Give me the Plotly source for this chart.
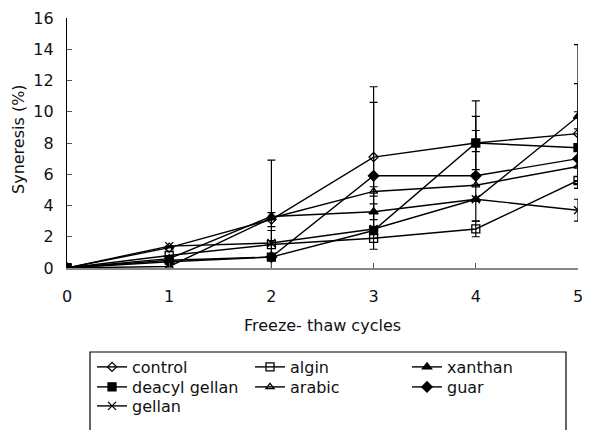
import plotly.graph_objects as go

cycles = [0, 1, 2, 3, 4, 5]
x_ticks = [0, 1, 2, 3, 4, 5]
y_ticks = [0, 2, 4, 6, 8, 10, 12, 14, 16]

control = [0, 1.3, 3.1, 7.1, 8.0, 8.6]
algin = [0, 0.8, 1.5, 1.9, 2.5, 5.6]
xanthan = [0, 0.6, 3.3, 3.6, 4.4, 9.7]
deacyl_gellan = [0, 0.5, 0.7, 2.4, 8.0, 7.7]
arabic = [0, 0.1, 3.2, 4.9, 5.3, 6.5]
guar = [0, 0.4, 0.7, 5.9, 5.9, 7.0]
gellan = [0, 1.4, 1.6, 2.5, 4.4, 3.7]

N = None
control_err = [N, N, 0.45, 4.5, 1.7, 3.2]
algin_err = [N, N, N, N, 0.5, N]
xanthan_err = [N, N, 3.6, 0.5, N, 4.6]
deacyl_err = [N, N, N, N, 2.7, 2.3]
deacyl_err_minus = [N, N, N, N, 0.55, N]
arabic_err = [N, N, N, 0.3, N, N]
guar_err = [N, N, N, 4.7, 2.9, 1.9]
gellan_err = [N, N, 0.8, N, N, 0.7]

# legend slot: (column, row)
series = [
    ("control", control, control_err, None, "diamond-open", 7, 0, 0),
    ("algin", algin, algin_err, None, "square-open", 8, 1, 0),
    ("xanthan", xanthan, xanthan_err, None, "triangle-up", 8, 2, 0),
    ("deacyl gellan", deacyl_gellan, deacyl_err, deacyl_err_minus, "square", 8, 0, 1),
    ("arabic", arabic, arabic_err, None, "triangle-up-open", 7, 1, 1),
    ("guar", guar, guar_err, None, "diamond", 8, 2, 1),
    ("gellan", gellan, gellan_err, None, "x-thin-open", 8, 0, 2),
]

font = dict(family="DejaVu Sans, sans-serif", size=16, color="#111")
col_x = [0.1429, 0.4116, 0.6786]
row_y = [0.1896, 0.1422, 0.0972]

fig = go.Figure()
legends = {}
for i, (name, vals, err, errm, sym, size, col, row) in enumerate(series):
    ey = dict(type="data", array=err, symmetric=errm is None, color="black",
              thickness=1.2, width=4)
    if errm is not None:
        ey["arrayminus"] = errm
    leg = "legend" if i == 0 else f"legend{i + 1}"
    fig.add_trace(go.Scatter(
        x=cycles, y=vals, name=name, mode="lines+markers",
        line=dict(color="black", width=1.4),
        marker=dict(symbol=sym, size=size, color="black",
                    line=dict(color="black", width=1.3)),
        error_y=ey, legend=leg, showlegend=True,
    ))
    legends[leg] = dict(font=font, bgcolor="rgba(0,0,0,0)", yanchor="top",
                        xanchor="left", orientation="v", itemwidth=30,
                        xref="container", yref="container",
                        x=col_x[col], y=row_y[row], visible=True)

fig.update_layout(
    width=588, height=422,
    showlegend=True,
    margin=dict(l=59, r=18, t=10, b=162, autoexpand=False),
    paper_bgcolor="white", plot_bgcolor="white",
    font=font,
    xaxis=dict(range=[0, 5], tickvals=x_ticks, showgrid=False, zeroline=False,
               showline=True, linecolor="#888", linewidth=1.5, ticks="inside",
               ticklen=5, tickcolor="#555", ticklabelstandoff=13,
               automargin=False,
               title=dict(text="Freeze- thaw cycles", font=font, standoff=15)),
    yaxis=dict(range=[0, 16], tickvals=y_ticks, showgrid=False, zeroline=False,
               showline=True, linecolor="black", linewidth=1.2, ticks="inside",
               ticklen=5, tickcolor="#555", ticklabelstandoff=9,
               automargin=False),
    annotations=[dict(text="Syneresis (%)", xref="paper", yref="paper",
                      x=-0.0959, y=0.516, xanchor="center", yanchor="middle",
                      textangle=-90, showarrow=False, font=font)],
    shapes=[dict(type="rect", xref="paper", yref="paper",
                 x0=0.045, x1=0.9765, y0=-0.336, y1=-0.72,
                 line=dict(color="black", width=1.2))],
    **legends,
)

fig.write_html("out.html")
